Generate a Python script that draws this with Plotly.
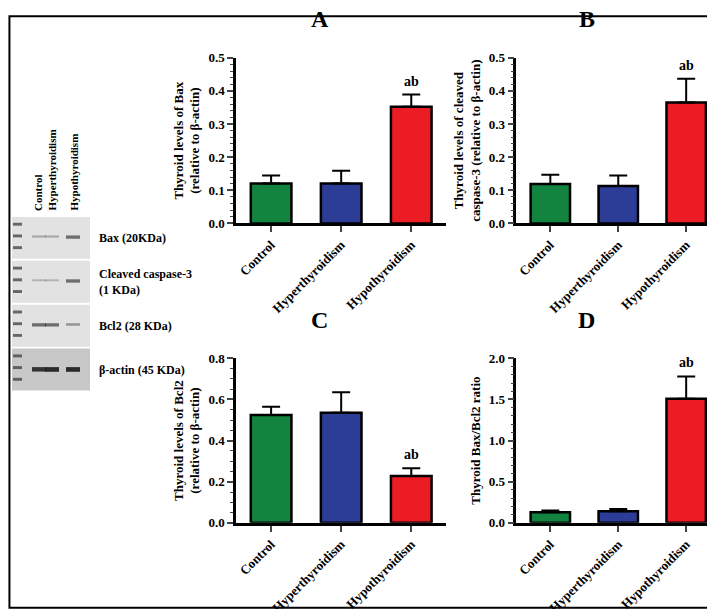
import plotly.graph_objects as go

groups = ["Control", "Hyperthyroidism", "Hypothyroidism"]
colors = ["#12843f", "#2b3d96", "#ec1c24"]

bax = [0.121, 0.121, 0.352]
bax_err = [0.024, 0.038, 0.037]
casp = [0.119, 0.113, 0.365]
casp_err = [0.028, 0.032, 0.072]
bcl2 = [0.525, 0.535, 0.228]
bcl2_err = [0.040, 0.100, 0.038]
ratio = [0.13, 0.14, 1.51]
ratio_err = [0.02, 0.03, 0.27]

panels = [
    ("A", bax, bax_err, "Thyroid levels of Bax<br>(relative to β-actin)", 0.5, 0.1),
    ("B", casp, casp_err, "Thyroid levels of cleaved<br>caspase-3 (relative to β-actin)", 0.5, 0.1),
    ("C", bcl2, bcl2_err, "Thyroid levels of Bcl2<br>(relative to β-actin)", 0.8, 0.2),
    ("D", ratio, ratio_err, "Thyroid Bax/Bcl2 ratio", 2.0, 0.5),
]
xdoms = [[0.319, 0.613], [0.711, 0.996]]
ydoms = [[0.649, 0.928], [0.145, 0.422]]
font = "Liberation Serif"

fig = go.Figure()
for i, (lab, vals, errs, ytitle, ymax, dt) in enumerate(panels):
    n = "" if i == 0 else str(i + 1)
    xd = xdoms[i % 2]
    yd = ydoms[i // 2]
    fig.add_trace(go.Bar(
        x=groups, y=vals, marker=dict(color=colors, line=dict(color="black", width=2.5)),
        width=0.58,
        error_y=dict(type="data", array=errs, arrayminus=[0, 0, 0], symmetric=False,
                     color="black", thickness=2, width=9),
        xaxis="x" + n, yaxis="y" + n, showlegend=False))
    fig.update_layout(**{
        "xaxis" + n: dict(domain=xd, anchor="y" + n, showline=True, linecolor="black", linewidth=2.5,
                          ticks="outside", ticklen=6, tickwidth=2, tickangle=-45,
                          tickfont=dict(family=font, size=13, color="black", weight="bold")),
        "yaxis" + n: dict(domain=yd, anchor="x" + n, range=[0, ymax], dtick=dt, tickformat=".1f",
                          showline=True, linecolor="black", linewidth=2.5, showgrid=False, zeroline=False,
                          ticks="outside", ticklen=6, tickwidth=2,
                          minor=dict(ticks="outside", ticklen=3, tickwidth=1, nticks=5),
                          tickfont=dict(family=font, size=13, color="black", weight="bold"),
                          title=dict(text=ytitle, font=dict(family=font, size=13, color="black", weight="bold"),
                                     standoff=6)),
    })
    fig.add_annotation(x=groups[2], y=vals[2] + errs[2], xref="x" + n, yref="y" + n, text="<b>ab</b>",
                       showarrow=False, yanchor="bottom", yshift=4, font=dict(family=font, size=14, color="black"))
    fig.add_annotation(x=(xd[0] + xd[1]) / 2 - 0.03, y=yd[1] + 0.04, xref="paper", yref="paper",
                       text="<b>" + lab + "</b>", showarrow=False, yanchor="bottom",
                       font=dict(family=font, size=24, color="black"))

# western blot sketch
blot_rows = ["Bax (20KDa)", "Cleaved caspase-3<br>(1 KDa)", "Bcl2 (28 KDa)", "β-actin (45 KDa)"]
band_strength = [[0.3, 0.3, 0.6], [0.25, 0.25, 0.6], [0.6, 0.6, 0.4], [0.9, 0.95, 0.95]]
lane_x = [31, 44, 65]
row_top = [207, 252, 297, 342]
shapes = [dict(type="rect", xref="paper", yref="paper", x0=0.002, x1=0.998, y0=0.002, y1=0.998,
               line=dict(color="black", width=2))]
def px(x, y):
    return x / 715, 1 - y / 609
for r, top in enumerate(row_top):
    x0, y0 = px(4, top)
    x1, y1 = px(82, top + 43)
    shapes.append(dict(type="rect", xref="paper", yref="paper", x0=x0, x1=x1, y0=y1, y1=y0,
                       fillcolor="#c8c8c8" if r == 3 else "#e2e2e2", line=dict(width=0)))
    for k in range(3):
        a, b = px(5, top + 6 + k * 12)
        c, d = px(14, top + 9 + k * 12)
        shapes.append(dict(type="rect", xref="paper", yref="paper", x0=a, x1=c, y0=d, y1=b,
                           fillcolor="#333", line=dict(width=0), opacity=0.7))
    for k, lx in enumerate(lane_x):
        s = band_strength[r][k]
        a, b = px(lx - 7, top + 19)
        c, d = px(lx + 7, top + 19 + 1 + 4 * s)
        shapes.append(dict(type="rect", xref="paper", yref="paper", x0=a, x1=c, y0=d, y1=b,
                           fillcolor="#222", line=dict(width=0), opacity=s))
    tx, ty = px(89, top + 22)
    fig.add_annotation(x=tx, y=ty, xref="paper", yref="paper", text="<b>" + blot_rows[r] + "</b>",
                       showarrow=False, xanchor="left", align="left",
                       font=dict(family=font, size=12, color="black"))
for k, lx in enumerate(lane_x):
    tx, ty = px(lx - 9 + k * 1, 203)
    fig.add_annotation(x=tx, y=ty, xref="paper", yref="paper", text="<b>" + groups[k] + "</b>",
                       showarrow=False, textangle=-90, yanchor="bottom",
                       font=dict(family=font, size=11, color="black"))

fig.update_layout(width=715, height=609, margin=dict(l=0, r=0, t=0, b=0),
                  paper_bgcolor="white", plot_bgcolor="white", shapes=shapes, bargap=0.4)
fig.write_html("out.html")
